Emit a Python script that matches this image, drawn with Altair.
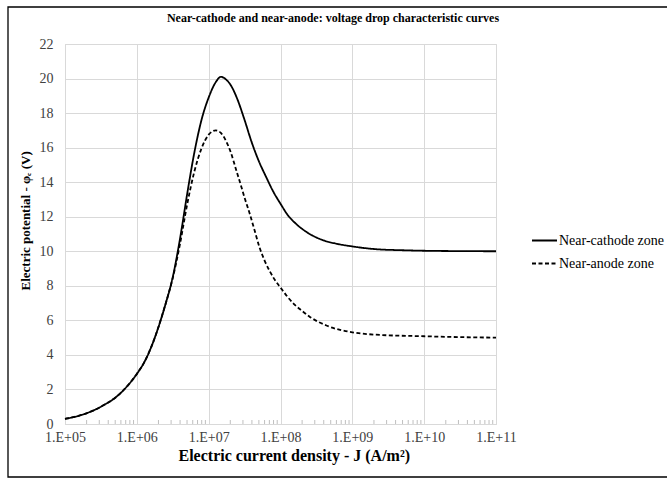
import altair as alt
import pandas as pd

SERIES = ["Near-cathode zone", "Near-anode zone"]
TITLE = "Near-cathode and near-anode: voltage drop characteristic curves"

# log10 of current density J (A/m^2) and potential (V)
LOGJ_CATHODE = [5.0, 5.25, 5.5, 5.75, 6.0, 6.1, 6.2, 6.3, 6.4, 6.5, 6.6, 6.7, 6.8, 6.9,
                7.0, 7.1, 7.17, 7.24, 7.31, 7.4, 7.5, 7.6, 7.7, 7.8, 7.9, 8.0, 8.1, 8.2,
                8.3, 8.45, 8.6, 8.8, 9.0, 9.33, 9.7, 10.0, 10.5, 11.0]
PHI_CATHODE = [0.3, 0.55, 1.0, 1.7, 2.9, 3.55, 4.45, 5.6, 6.95, 8.5, 10.7, 13.3, 15.7, 17.6,
               18.9, 19.8, 20.1, 19.95, 19.6, 18.8, 17.6, 16.3, 15.2, 14.3, 13.45, 12.75, 12.1, 11.65,
               11.3, 10.9, 10.63, 10.42, 10.28, 10.12, 10.06, 10.03, 10.01, 10.0]

LOGJ_ANODE = [5.0, 5.25, 5.5, 5.75, 6.0, 6.1, 6.2, 6.3, 6.4, 6.5, 6.6, 6.7, 6.8, 6.9,
              7.0, 7.1, 7.17, 7.24, 7.31, 7.38, 7.45, 7.5, 7.57, 7.64, 7.71, 7.78, 7.85,
              7.92, 8.0, 8.1, 8.2, 8.3, 8.41, 8.64, 9.0, 9.33, 10.0, 10.5, 11.0]
PHI_ANODE = [0.3, 0.55, 1.0, 1.7, 2.9, 3.55, 4.45, 5.6, 6.95, 8.45, 10.4, 12.7, 14.6, 15.95,
             16.75, 17.0, 16.85, 16.4, 15.7, 14.75, 13.8, 13.1, 12.2, 11.2, 10.2, 9.45, 8.85,
             8.35, 7.9, 7.35, 6.9, 6.55, 6.2, 5.7, 5.31, 5.17, 5.08, 5.03, 5.0]

X_TICKS = [1e5, 1e6, 1e7, 1e8, 1e9, 1e10, 1e11]
Y_TICKS = list(range(0, 23, 2))
MINOR_MULT = [2, 3, 4, 5, 6, 7, 8, 9]

rows = []
for lj, v in zip(LOGJ_CATHODE, PHI_CATHODE):
    rows.append({"logJ": lj, "phi": v, "series": SERIES[0]})
for lj, v in zip(LOGJ_ANODE, PHI_ANODE):
    rows.append({"logJ": lj, "phi": v, "series": SERIES[1]})
df = pd.DataFrame(rows)

minor = pd.DataFrame({"J": [m * 10 ** d for d in range(5, 11) for m in MINOR_MULT]})

FONT = "Times New Roman, Liberation Serif, serif"
W, H = 431, 380

xscale = alt.Scale(type="log", domain=[1e5, 1e11], nice=False)
yscale = alt.Scale(domain=[0, 22], nice=False)

lines = alt.Chart(df).transform_calculate(
    J="pow(10, datum.logJ)"
).mark_line(color="black", strokeWidth=1.8, interpolate="monotone").encode(
    x=alt.X("J:Q", scale=xscale, axis=alt.Axis(
        values=X_TICKS,
        labelExpr="'1.E+' + (round(log(datum.value)/LN10) < 10 ? '0' : '') + round(log(datum.value)/LN10)",
        title="Electric current density - J (A/m²)",
        grid=True, gridColor="#d9d9d9", gridWidth=1,
        domainColor="#d9d9d9", ticks=False,
        labelFont=FONT, labelFontSize=14, labelColor="#404040", labelPadding=6,
        titleFont=FONT, titleFontSize=16, titleFontWeight="bold", titleColor="black",
        titlePadding=3, titleX=113, titleAlign="left", labelFlush=False)),
    y=alt.Y("phi:Q", scale=yscale, axis=alt.Axis(
        values=Y_TICKS, title="Electric potential - φₑ (V)",
        grid=True, gridColor="#d9d9d9", gridWidth=1,
        domainColor="#d9d9d9", ticks=False,
        labelFont=FONT, labelFontSize=14, labelColor="#404040", labelPadding=12,
        titleFont=FONT, titleFontSize=13, titleFontWeight="bold", titleColor="black",
        titleY=246, titleX=-33, titleAlign="left")),
    strokeDash=alt.StrokeDash("series:N", scale=alt.Scale(domain=SERIES, range=[[1, 0], [4, 2.5]]),
                              legend=alt.Legend(title=None, orient="none", legendX=466, legendY=183,
                                                symbolType="stroke", symbolSize=625,
                                                symbolStrokeColor="black", symbolStrokeWidth=1.8,
                                                labelFont=FONT, labelFontSize=14, labelColor="black",
                                                labelOffset=1, rowPadding=2)),
)

minor_ticks = alt.Chart(minor).mark_rule(color="#bfbfbf", strokeWidth=1).encode(
    x=alt.X("J:Q", scale=xscale),
    y=alt.value(H),
    y2=alt.value(H - 4),
)

title = alt.Chart(pd.DataFrame({"t": [TITLE]})).mark_text(
    font=FONT, fontSize=12, fontWeight="bold", color="black", align="center", baseline="middle"
).encode(text="t:N", x=alt.value(268), y=alt.value(-26))

frame = alt.Chart(pd.DataFrame({"a": [0]})).mark_rect(
    fill="white", fillOpacity=0, stroke="black", strokeWidth=1.3
).encode(x=alt.value(-57), x2=alt.value(620), y=alt.value(-37), y2=alt.value(433))

chart = alt.layer(minor_ticks, lines, title, frame).properties(
    width=W, height=H,
    autosize="none",
    padding={"left": 65, "top": 44, "right": 171, "bottom": 55},
).configure_view(stroke=None).configure(background="white")

chart.save("out.html", embed_options={"renderer": "svg", "actions": False})
